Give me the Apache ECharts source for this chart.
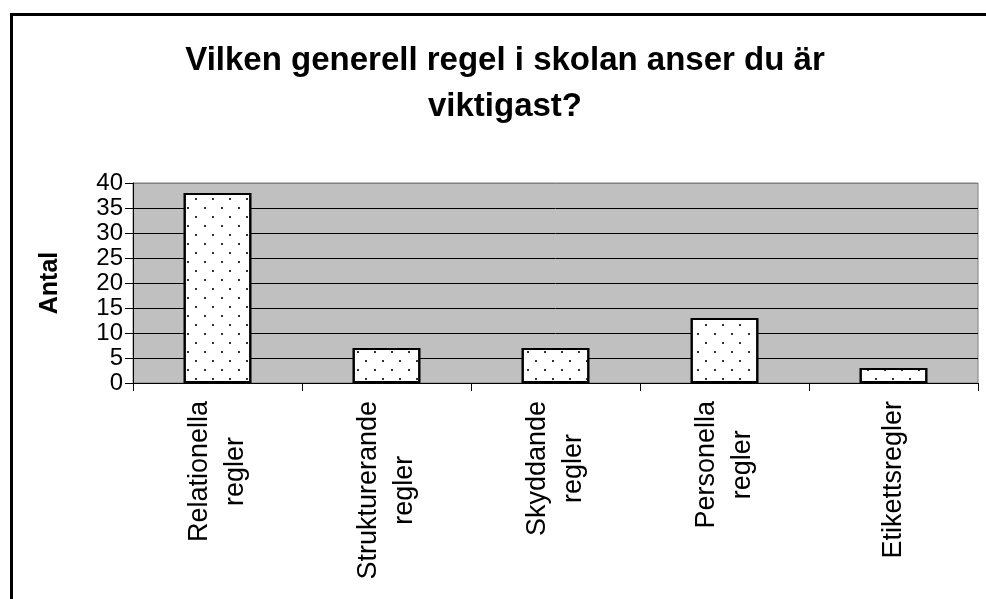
<!DOCTYPE html>
<html>
<head>
<meta charset="utf-8">
<script src="https://cdn.jsdelivr.net/npm/echarts@6/dist/echarts.min.js"></script>
<style>
html,body{margin:0;padding:0;background:#fff;}
#chart{width:986px;height:599px;}
</style>
</head>
<body>
<div id="chart"></div>
<script>
var titleText = 'Vilken generell regel i skolan anser du är\nviktigast?';
var yAxisName = 'Antal';
var categories = ['Relationella\nregler', 'Strukturerande\nregler', 'Skyddande\nregler', 'Personella\nregler', 'Etikettsregler'];
var values = [38, 7, 7, 13, 3];
var yTicks = [0, 5, 10, 15, 20, 25, 30, 35, 40];

var FONT = '"Liberation Sans", Arial, Helvetica, sans-serif';
var chart = echarts.init(document.getElementById('chart'), null, {renderer: 'canvas'});

var option = {
  backgroundColor: '#ffffff',
  animation: false,
  graphic: [{
    type: 'rect',
    shape: {x: 11.5, y: 14.5, width: 1000, height: 700},
    style: {fill: null, stroke: '#000', lineWidth: 3},
    silent: true
  }],
  title: {
    text: titleText,
    left: 500,
    top: 33,
    textAlign: 'center',
    textStyle: {
      fontFamily: FONT,
      fontSize: 33,
      fontWeight: 'bold',
      color: '#000',
      lineHeight: 46
    }
  },
  grid: {
    left: 133,
    right: 8,
    top: 183,
    bottom: 216,
    show: true,
    backgroundColor: '#c0c0c0',
    borderColor: '#808080',
    borderWidth: 1,
    containLabel: false
  },
  xAxis: {
    type: 'category',
    data: categories,
    axisLine: {show: true, lineStyle: {color: '#000', width: 1}},
    axisTick: {show: true, length: 8, inside: false, alignWithLabel: false, lineStyle: {color: '#000'}},
    axisLabel: {
      rotate: 90,
      margin: 18,
      interval: 0,
      color: '#000',
      fontFamily: FONT,
      fontSize: 27,
      lineHeight: 36,
      formatter: function (v) {
        return v.split('\n').map(function (s) { return '{c|' + s + '}'; }).join('\n');
      },
      rich: {
        c: {align: 'center', fontFamily: FONT, fontSize: 27, lineHeight: 36, color: '#000'}
      }
    },
    splitLine: {show: false}
  },
  yAxis: {
    type: 'value',
    min: yTicks[0],
    max: yTicks[yTicks.length - 1],
    interval: yTicks[1] - yTicks[0],
    name: yAxisName,
    nameLocation: 'middle',
    nameGap: 70,
    nameTextStyle: {fontFamily: FONT, fontSize: 25, fontWeight: 'bold', color: '#000'},
    axisLine: {show: true, lineStyle: {color: '#000', width: 1}},
    axisTick: {show: true, length: 8, inside: false, lineStyle: {color: '#000'}},
    axisLabel: {color: '#000', fontFamily: FONT, fontSize: 24, margin: 10, showMinLabel: true, showMaxLabel: true, hideOverlap: false},
    splitLine: {show: true, lineStyle: {color: ['#000','#000','#000','#000','#000','#000','#000','#000','#808080'], width: 1}}
  },
  series: [{
    type: 'bar',
    data: values,
    barWidth: '40%',
    itemStyle: {
      color: '#ffffff',
      borderColor: '#000',
      borderWidth: 2,
      decal: {
        symbol: 'rect',
        symbolSize: 1,
        color: '#333333',
        dashArrayX: [[1.5, 14.2], [0, 7.85, 1.5, 6.35]],
        dashArrayY: [1.5, 6.35],
        rotation: 0
      }
    },
    emphasis: {disabled: true}
  }]
};
chart.setOption(option);
</script>
</body>
</html>
